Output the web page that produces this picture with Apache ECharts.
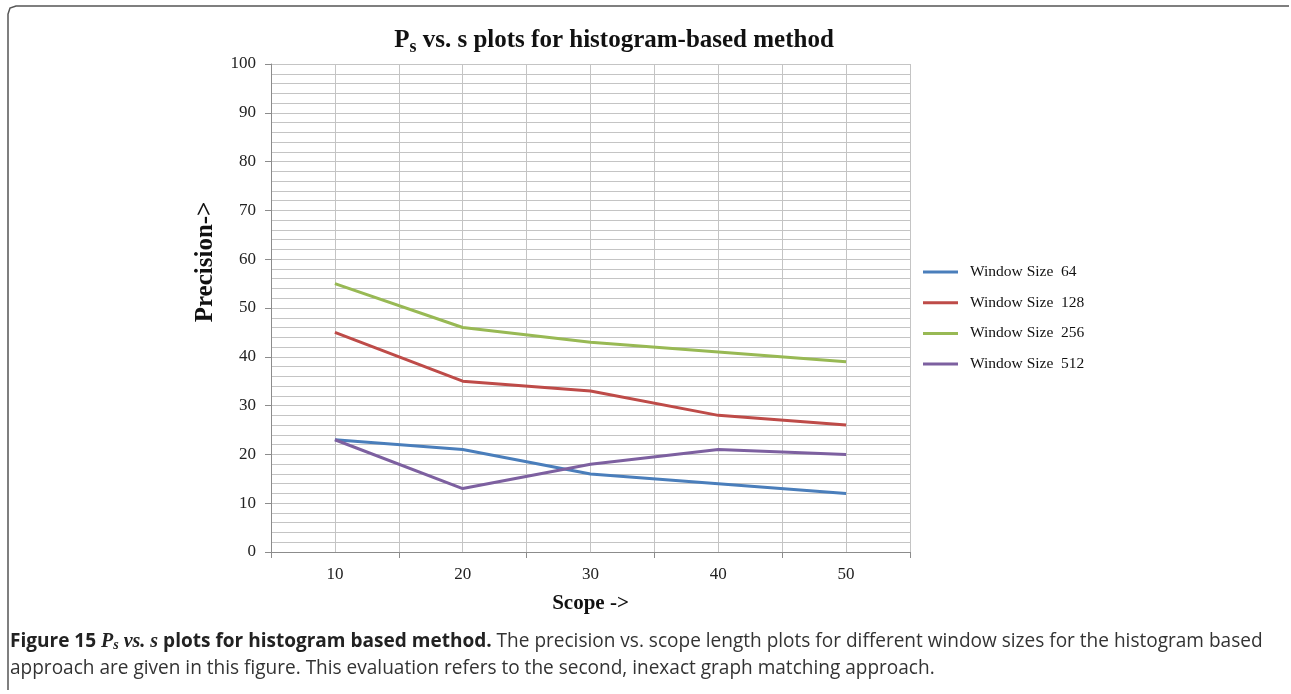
<!DOCTYPE html>
<html><head><meta charset="utf-8">
<script src="https://cdn.jsdelivr.net/npm/echarts@6/dist/echarts.min.js"></script>
<style>html,body{margin:0;padding:0;background:#fff}#c{width:1291px;height:694px}</style>
</head><body><div id="c"></div>
<script>
const scopes = [10, 20, 30, 40, 50];
const seriesNames = ['Window Size  64', 'Window Size  128', 'Window Size  256', 'Window Size  512'];
const win64 = [23, 21, 16, 14, 12];
const win128 = [45, 35, 33, 28, 26];
const win256 = [55, 46, 43, 41, 39];
const win512 = [23, 13, 18, 21, 20];
const colors = ['#4A7EBB', '#BE4B48', '#98B954', '#7D60A0'];
const captionLine1Rest = ' The precision vs. scope length plots for different window sizes for the histogram based';
const captionLine2 = 'approach are given in this figure. This evaluation refers to the second, inexact graph matching approach.';

const chart = echarts.init(document.getElementById('c'));
const serif = 'Liberation Serif';
const values = [win64, win128, win256, win512];
const series = values.map((v, i) => ({
  name: seriesNames[i], type: 'line', symbol: 'none',
  data: scopes.map((s, j) => [s, v[j]]),
  lineStyle: { width: 3, color: colors[i] }, itemStyle: { color: colors[i] }
}));
const capSize = 19.05;
chart.setOption({
  animation: false,
  backgroundColor: '#fff',
  grid: { left: 271, top: 64, width: 639, height: 488 },
  legend: {
    orient: 'vertical', left: 918, top: 258, itemWidth: 35, itemHeight: 3, itemGap: 12.7, icon: 'rect',
    textStyle: { fontFamily: serif, fontSize: 15.5, color: '#111', padding: [0, 0, 0, 7], lineHeight: 18 },
    data: seriesNames
  },
  xAxis: [{
    type: 'value', min: 5, max: 55, interval: 5,
    name: 'Scope ->', nameLocation: 'middle', nameGap: 41,
    nameTextStyle: { fontFamily: serif, fontSize: 21, fontWeight: 'bold', color: '#111' },
    axisLine: { show: true, lineStyle: { color: '#8c8c8c' } },
    axisTick: { show: false },
    axisLabel: { margin: 14, fontFamily: serif, fontSize: 17, color: '#222',
      formatter: v => (v % 10 === 0 ? String(v) : '') },
    splitLine: { show: true, lineStyle: { color: '#c4c4c4', width: 1 } }
  }, {
    type: 'value', min: 5, max: 55, interval: 10, position: 'bottom',
    axisLine: { show: false }, axisLabel: { show: false }, splitLine: { show: false },
    axisTick: { show: true, length: 6, lineStyle: { color: '#8c8c8c' } }
  }],
  yAxis: {
    type: 'value', min: 0, max: 100, interval: 10,
    axisLine: { show: true, lineStyle: { color: '#8c8c8c' } },
    axisTick: { show: true, length: 6, lineStyle: { color: '#8c8c8c' } },
    axisLabel: { margin: 15, fontFamily: serif, fontSize: 17, color: '#222' },
    splitLine: { show: true, lineStyle: { color: '#c4c4c4', width: 1 } },
    minorTick: { show: false, splitNumber: 5 },
    minorSplitLine: { show: true, lineStyle: { color: '#c4c4c4', width: 1 } }
  },
  series: series,
  graphic: [
    { type: 'polyline', shape: { points: [[8, 690], [8, 14], [10, 8], [16, 6], [1289, 6]] },
      style: { stroke: '#555', lineWidth: 1.5, fill: null }, silent: true },
    { type: 'text', x: 206, y: 262, rotation: Math.PI / 2, style: {
      text: 'Precision->', textAlign: 'center', textVerticalAlign: 'middle',
      fontFamily: serif, fontSize: 25, fontWeight: 'bold', fill: '#111' } },
    { type: 'text', x: 614, y: 26, style: {
      text: '{p|P}{sub|s}{p| vs. s plots for histogram-based method}', textAlign: 'center',
      rich: { p: { fontFamily: serif, fontSize: 25, fontWeight: 'bold', fill: '#111' },
              sub: { fontFamily: serif, fontSize: 18, fontWeight: 'bold', fill: '#111', padding: [12, 0, 0, 0] } } } },
    { type: 'text', x: 10, y: 631, style: {
      text: '{b|Figure 15 }{it|P}{its|s}{it| vs. s}{b| plots for histogram based method.}{n|' + captionLine1Rest + '}',
      rich: {
        b: { fontFamily: 'Open Sans', fontSize: capSize, fontWeight: 'bold', fill: '#222' },
        it: { fontFamily: serif, fontSize: 20, fontWeight: 'bold', fontStyle: 'italic', fill: '#222' },
        its: { fontFamily: serif, fontSize: 14, fontWeight: 'bold', fontStyle: 'italic', fill: '#222', padding: [7, 0, 0, 0] },
        n: { fontFamily: 'Open Sans', fontSize: capSize, fill: '#333' }
      } } },
    { type: 'text', x: 10, y: 659, style: { text: captionLine2, fontFamily: 'Open Sans', fontSize: capSize, fill: '#333' } }
  ]
});
</script></body></html>
